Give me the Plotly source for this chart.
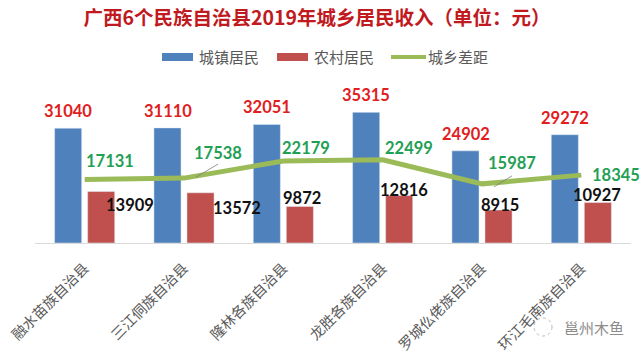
import plotly.graph_objects as go

counties = ["融水苗族自治县", "三江侗族自治县", "隆林各族自治县",
            "龙胜各族自治县", "罗城仫佬族自治县", "环江毛南族自治县"]
urban = [31040, 31110, 32051, 35315, 24902, 29272]
rural = [13909, 13572, 9872, 12816, 8915, 10927]
gap = [17131, 17538, 22179, 22499, 15987, 18345]

BLUE = "#4F81BD"
RED = "#C0504D"
GREEN = "#9BBB59"
CJK = "Noto Sans CJK SC"
NUM = "Lato"

W, H = 643, 354
ML, MR, MT, MB = 35, 12, 95, 111
PW = W - ML - MR
PH = H - MT - MB


def px2x(px):
    return (px - ML) / PW


def py2y(py):
    return (H - MB - py) / PH


fig = go.Figure()
fig.add_trace(go.Bar(x=list(range(6)), y=urban, name="城镇居民",
                     marker_color=BLUE, showlegend=False))
fig.add_trace(go.Bar(x=list(range(6)), y=rural, name="农村居民",
                     marker_color=RED, showlegend=False))
fig.add_trace(go.Scatter(x=list(range(6)), y=gap, name="城乡差距", mode="lines",
                         line=dict(color=GREEN, width=5), showlegend=False))

ann = []
# urban labels (above blue bars)
for i, v in enumerate(urban):
    ann.append(dict(x=i, y=v, xref="x", yref="y", text=str(v), showarrow=False,
                    xshift=-16.5, yshift=17, yanchor="middle",
                    font=dict(family=NUM, size=16.5, color="#E0201E", weight="bold")))
# gap labels
gap_off = [(25, 19), (34, 25), (23, 13), (26.5, 11.5), (30, 21), (35, 0)]
for i, v in enumerate(gap):
    dx, dy = gap_off[i]
    ann.append(dict(x=i, y=v, xref="x", yref="y", text=str(v), showarrow=False,
                    xshift=dx, yshift=dy, yanchor="middle",
                    font=dict(family=NUM, size=16.5, color="#1FA055", weight="bold")))
# rural labels
rural_off = [(45, -13.5), (53, -15), (19, 8.4), (21.5, 5.5), (17.5, 5), (16, 7.5)]
for i, v in enumerate(rural):
    dx, dy = rural_off[i]
    ann.append(dict(x=i, y=v, xref="x", yref="y", text=str(v), showarrow=False,
                    xshift=dx, yshift=dy, yanchor="middle",
                    font=dict(family=NUM, size=16.5, color="#111111", weight="bold")))

# legend (custom)
legend_items = [("城镇居民", BLUE, "bar", 162), ("农村居民", RED, "bar", 277),
                ("城乡差距", GREEN, "line", 391)]
shapes = []
for name, col, kind, x0 in legend_items:
    if kind == "bar":
        shapes.append(dict(type="rect", xref="paper", yref="paper",
                           x0=px2x(x0), x1=px2x(x0 + 31), y0=py2y(61), y1=py2y(53),
                           fillcolor=col, line=dict(width=0)))
    else:
        shapes.append(dict(type="line", xref="paper", yref="paper",
                           x0=px2x(x0), x1=px2x(x0 + 35), y0=py2y(57), y1=py2y(57),
                           line=dict(color=col, width=4)))
    tx = x0 + 35
    ann.append(dict(x=px2x(tx), y=py2y(57), xref="paper", yref="paper",
                    text=name, showarrow=False, xanchor="left", yanchor="middle",
                    font=dict(family=CJK, size=15, color="#595959")))

# leader lines for two gap labels
for i, (x0, y0, x1, y1) in [(1, (12, 1, 34, 14)), (4, (12, -3, 30, 8))]:
    shapes.append(dict(type="line", xref="x", yref="y", xsizemode="pixel",
                       ysizemode="pixel", xanchor=i, yanchor=gap[i],
                       x0=x0, x1=x1, y0=y0, y1=y1,
                       line=dict(color="#7F7F7F", width=0.8)))

# watermark (icon + text)
shapes.append(dict(type="circle", xref="paper", yref="paper",
                   x0=px2x(534), x1=px2x(552), y0=py2y(336), y1=py2y(318),
                   line=dict(color="#BBBBBB", width=1, dash="dot")))
ann.append(dict(x=px2x(562), y=py2y(327), xref="paper", yref="paper", text="邕州木鱼",
                showarrow=False, xanchor="left", yanchor="middle",
                font=dict(family=CJK, size=15, color="#8C8C8C")))

fig.update_layout(
    width=W, height=H,
    margin=dict(l=ML, r=MR, t=MT, b=MB),
    paper_bgcolor="white", plot_bgcolor="white",
    barmode="group", bargap=0.335, bargroupgap=0.18,
    title=dict(text="广西6个民族自治县2019年城乡居民收入（单位：元）",
               x=0.493, xref="container", y=1 - 18 / H, yref="container",
               xanchor="center", yanchor="middle",
               font=dict(family=CJK, size=19.5, color="#C0191E", weight="bold")),
    xaxis=dict(tickmode="array", tickvals=list(range(6)), ticktext=counties,
               range=[-0.5, 5.5], tickangle=-45, showline=True, linecolor="#D9D9D9",
               linewidth=1, showgrid=False, zeroline=False, ticks="",
               automargin=False, ticklabelstandoff=10,
               tickfont=dict(family=CJK, size=14.5, color="#595959")),
    yaxis=dict(range=[0, 40000], visible=False, showgrid=False, zeroline=False,
               automargin=False),
    annotations=ann, shapes=shapes,
)

fig.write_html("out.html")
